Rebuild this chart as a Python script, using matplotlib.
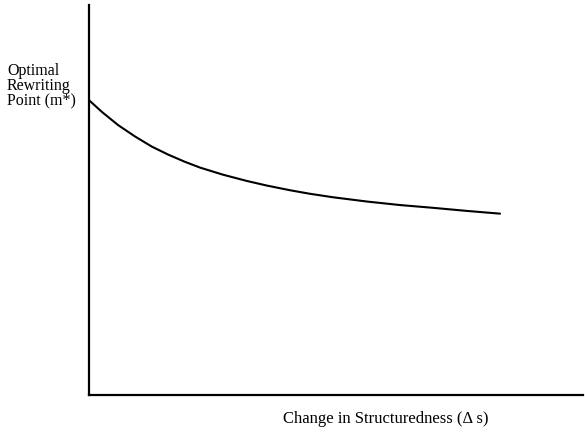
import matplotlib
matplotlib.use("Agg")
import matplotlib.pyplot as plt

# 読み取った曲線の値（軸の範囲 0-100）
delta_s = [0, 2.6, 5.9, 9.3, 12.7, 16.1, 19.4, 22.5, 27.1, 31.9, 36.0, 40.7,
           44.7, 49.4, 56.3, 63.0, 69.6, 76.5, 83.2]
m_star = [75.6, 72.6, 69.2, 66.3, 63.7, 61.6, 59.8, 58.3, 56.5, 54.9, 53.7, 52.5,
          51.6, 50.7, 49.6, 48.7, 48.0, 47.2, 46.5]

y_label_lines = ["Optimal", "Rewriting", "Point (m*)"]
x_label = "Change in Structuredness (\u0394 s)"

plt.rcParams['font.family'] = ['Liberation Serif', 'DejaVu Serif']

fig = plt.figure(figsize=(5.85, 4.33), dpi=100)
ax = fig.add_axes([89 / 585, 38 / 433, 494 / 585, 390 / 433])

ax.plot(delta_s, m_star, color='black', linewidth=1.5,
        solid_capstyle='round', solid_joinstyle='round')

ax.set_xlim(0, 100)
ax.set_ylim(0, 100)
ax.spines['top'].set_visible(False)
ax.spines['right'].set_visible(False)
ax.spines['left'].set_linewidth(1.6)
ax.spines['bottom'].set_linewidth(1.6)
ax.set_xticks([])
ax.set_yticks([])

# 軸ラベル（軸の外側に配置）
fig.text(7 / 585, 1 - 86 / 433, "\n".join(y_label_lines), fontsize=11.5,
         ha='left', va='center', linespacing=0.95)
fig.text(386 / 585, 1 - 419 / 433, x_label, fontsize=12, ha='center', va='center')

fig.savefig("out.png", dpi=100)
